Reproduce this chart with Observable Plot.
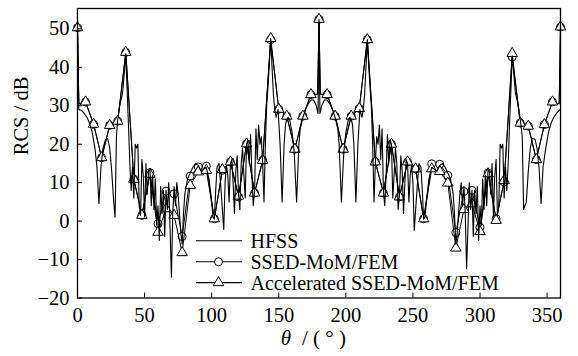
<!DOCTYPE html>
<html><head><meta charset="utf-8">
<script src="https://cdn.jsdelivr.net/npm/d3@7"></script>
<script src="https://cdn.jsdelivr.net/npm/@observablehq/plot@0.6"></script>
<style>
body{margin:0;background:#fff;}
#chart{position:relative;width:578px;height:356px;font-family:'Liberation Serif',serif;}
#chart svg, #chart svg text{font-family:'Liberation Serif','Times New Roman',serif !important;}
#legend{position:absolute;left:0;top:0;pointer-events:none;}
</style></head><body><div id="chart"></div>
<script>
// HFSS reference curve (θ in degrees, RCS in dB)
const hfssTheta = [0,1,3,5,7,9,11,13,14.5,16,17.5,19,21,22.5,24,25.5,27,28,29,30,31,32,33.5,35,36,37,38,39,40,41,42,43,44,45,46,47,48,49,50,51,52,53,54,55,56,57,58,59,60,61,62,63,64,65,66,67,68,69,70,71,72,73,74,75,76,77,78,79,80,81,82,84,86,88,90,92,94,96,98,100,101,102,103,104,105.5,107,109,110,111,112,113,114,115,116,117,118,119,120,121,122,123,124,125,126,127,128,129,130,131,132,133,134,135,136,137,138,139,140,141,142,143,144,145,146,147,148,149.5,151,152.5,154,155,156,157,158,160,161.5,163.3,165,166,168,170,172,174,176,178,179.3,180,
180.7,182,184,186,188,190,192,194,195,196.7,198.5,200,202,203,204,205,206,207.5,209,210.5,212,213,214,215,216,217,218,219,220,221,222,223,224,225,226,227,228,229,230,231,232,233,234,235,236,237,238,239,240,241,242,243,244,245,246,247,248,249,250,251,253,254.5,256,257,258,259,260,262,264,266,268,270,272,274,276,278,279,280,281,282,283,284,285,286,287,288,289,290,291,292,293,294,295,296,297,298,299,300,301,302,303,304,305,306,307,308,309,310,311,312,313,314,315,316,317,318,319,320,321,322,323,324,325,326.5,328,329,330,331.5,332.5,334.5,336,337.5,339,341,342.5,344,345.5,347,349,351,353,355,357,359,360];
const hfssValue = [50,29,28.8,28,27,25.5,23,19,14,4.6,14,19,21.3,21.5,19,13,5,1,22,26.5,29,31,33,39,43.5,34,25,15,8,14,6,20,19,20,4,1.5,16,12,1,15,7,13,13.5,4,12,3,11,-1,4,-5,9,2,8,-4,8,3,10,-2,-14.6,2,9,4,10,7,2,-3,-6,2,7,9,11,12.5,14,15,14.5,13,13.5,14,11,5,1,0.5,8,14,15,8,-2.2,10,14.5,12,5,15,16,10,2,13,17,7,3,15,19,12,6,20,21,15,22.5,12,4,8,24,16,25,20,22,15,5,20,30,35,41,47.5,40,33,29,27,29,20,5,20,25,26.5,27,26.5,23,18,5,20,24,27,29,30.5,31.5,31.5,30,28,52.5,
28,30,31.5,31.5,30.5,29,27,24,20,5,18,23,26.5,27,26.5,25,20,5,20,29,27,29,33,40,47.2,41,35,30,20,5,15,22,20,25,16,24,8,4,12,22.5,15,21,20,6,12,19,15,3,7,17,13,2,10,16,15,5,12,14.5,10,-2.4,8,15,14,8,0.5,1,5,11,14,13.5,13,14.5,15,14,12.5,11,9,7,2,-6,-3,2,7,10,4,9,2,-12.4,-2,10,3,8,-4,8,2,9,-5,4,-1,11,3,12,4,13.5,13,7,15,1,12,16,1.5,4,20,19,20,6,14,8,15,25,34,43,39,33,31,29,26.5,22,3,5,13,19,21.5,21.3,19,14,4.6,14,19,23,25.5,27,28,28.8,29,50];

// SSED-MoM/FEM (markers every 6°)
const ssedTheta = [0,1,6,12,18,24,30,36,42,48,54,60,66,72,78,84,90,96,102,108,114,120,126,132,138,144,150,156,162,168,174,179,180,181,186,192,198,204,210,216,222,228,234,240,246,252,258,264,270,276,282,288,294,300,306,312,318,324,330,336,342,348,354,359,360];
const ssedValue = [50.3,30.5,31,25.2,16.5,24.9,26,43.9,10.9,1.5,12.6,-0.7,7.8,7.1,-4,11.7,14.1,14.3,0.6,13.2,15.4,6.3,20.1,7.3,15.8,47.2,29.1,27.3,18.7,27.3,32.9,33,52.5,33,32.9,27.3,18.7,27.3,29.3,47.2,15.4,7.3,20,6.3,15.4,13.6,0.6,14.9,14.8,11.9,-3,7.7,8,-1.6,12.5,0.6,10.2,42.7,25.5,24.7,16,25.1,31,30.5,50.5];

// Accelerated SSED-MoM/FEM
const accTheta = ssedTheta.slice();
const accValue = [50.3,30.5,31,25.2,16.5,24.9,26,43.9,10.9,1.5,12.2,-2.9,3.2,1.5,-8.2,9.3,12.8,13.2,0.6,13.4,15.4,6.5,20.1,7.3,15.8,47.5,29.1,27.3,18.7,27.3,32.9,33,52.5,33,32.9,27.3,18.7,27.3,29.3,47.2,15.4,7.3,20,6.3,15.4,13.6,0.6,13.6,12.9,9.9,-7,3,4.5,-2.7,12.3,0.2,10.6,43.6,25.5,24.7,16,25.1,31,30.5,50.5];

const xTicks = [0,50,100,150,200,250,300,350];
const yTicks = [-20,-10,0,10,20,30,40,50];
const seriesNames = ["HFSS","SSED-MoM/FEM","Accelerated SSED-MoM/FEM"];
const yLabel = "RCS / dB";
const xLabelVar = "θ";
const xLabelUnit = "/ ( ° )";

const hfss = hfssTheta.map((t,i)=>({theta:t, v:hfssValue[i]}));
const ssed = ssedTheta.map((t,i)=>({theta:t, v:ssedValue[i]}));
const acc = accTheta.map((t,i)=>({theta:t, v:accValue[i]}));
const isMarker = d => d.theta % 6 === 0;

const font = "Liberation Serif";
const plot = Plot.plot({
  width: 578, height: 356,
  marginLeft: 77, marginRight: 18, marginTop: 8, marginBottom: 58.5,
  style: {fontFamily: font, fontSize: "20.5px", background: "#fff", color: "#000", overflow: "visible"},
  x: {domain: [0, 360]},
  y: {domain: [-20, 55.3]},
  marks: [
    Plot.line(ssed, {x: "theta", y: "v", stroke: "#000", strokeWidth: 1}),
    Plot.dot(ssed.filter(isMarker), {x: "theta", y: "v", symbol: "circle", r: 4, fill: "#fff", stroke: "#000", strokeWidth: 1}),
    Plot.line(acc, {x: "theta", y: "v", stroke: "#000", strokeWidth: 1}),
    Plot.dot(acc.filter(isMarker), {x: "theta", y: "v", symbol: "triangle", r: 3.9, fill: "#fff", stroke: "#000", strokeWidth: 1}),
    Plot.line(hfss, {x: "theta", y: "v", stroke: "#000", strokeWidth: 1.1}),
    Plot.frame({stroke: "#000", strokeWidth: 1.3}),
    Plot.axisX(xTicks, {tickSize: -5, tickFormat: () => "", label: null}),
    Plot.axisX(xTicks, {tickSize: 0, tickPadding: 9, label: null, fontFamily: font}),
    Plot.axisY(yTicks, {tickSize: -5, tickFormat: () => "", label: null}),
    Plot.axisY(yTicks, {tickSize: 0, tickPadding: 8, label: null, fontFamily: font}),
    Plot.text([yLabel], {frameAnchor: "left", rotate: -90, dx: -56, dy: 2, text: d => d, fontSize: 20.5, fontFamily: font}),
    Plot.text([xLabelVar], {frameAnchor: "bottom", textAnchor: "end", dx: -28, dy: 47, text: d => d, fontStyle: "italic", fontSize: 21, fontFamily: font}),
    Plot.text([xLabelUnit], {frameAnchor: "bottom", textAnchor: "start", dx: -17, dy: 47, text: d => d, fontSize: 21, fontFamily: font})
  ]
});
const chart = document.getElementById("chart");
chart.appendChild(plot);

// Legend overlay
const leg = d3.select(chart).append("svg").attr("id","legend").attr("width",578).attr("height",356);
const rows = [240.7, 261.8, 282.6];
const sym = [null, d3.symbol(d3.symbolCircle, Math.PI*16), d3.symbol(d3.symbolTriangle, Math.PI*3.9*3.9)];
seriesNames.forEach((name,i)=>{
  const g = leg.append("g").attr("transform",`translate(0,${rows[i]})`);
  g.append("line").attr("x1",196).attr("x2",242).attr("y1",0).attr("y2",0).attr("stroke","#000").attr("stroke-width",1.1);
  if (sym[i]) g.append("path").attr("d",sym[i]()).attr("transform","translate(218.5,0)").attr("fill","#fff").attr("stroke","#000");
  g.append("text").attr("x",250.5).attr("y",7).attr("font-family",font).attr("font-size",20).attr("fill","#000").text(name);
});
</script></body></html>
